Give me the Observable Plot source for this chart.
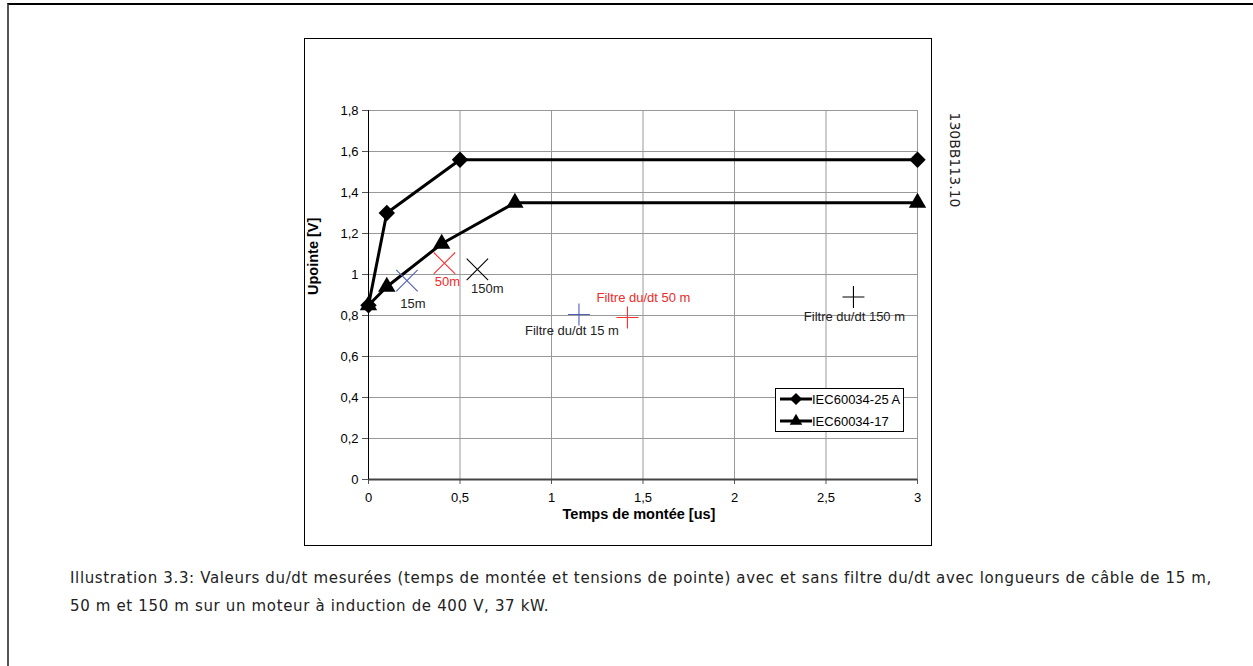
<!DOCTYPE html>
<html><head><meta charset="utf-8">
<script src="https://cdn.jsdelivr.net/npm/d3@7"></script>
<script src="https://cdn.jsdelivr.net/npm/@observablehq/plot@0.6"></script>
<style>
body{margin:0;background:#fff;}
#page{position:relative;width:1253px;height:666px;overflow:hidden;font-family:"Liberation Sans",Arial,sans-serif;}
#border{position:absolute;left:7px;top:3px;right:-5px;bottom:-5px;border-top:2px solid #000;border-left:2px solid #555;}
#frame{position:absolute;left:304px;top:38px;width:628px;height:508px;border:1px solid #000;box-sizing:border-box;}
#chart{position:absolute;left:0;top:0;}
#legend{position:absolute;left:775px;top:388px;}
#code{position:absolute;left:905px;top:150px;width:100px;text-align:center;font-family:"DejaVu Sans";font-size:14px;transform:rotate(90deg);transform-origin:50% 50%;line-height:20px;color:#222;}
#caption{position:absolute;left:70px;top:564px;font-family:"DejaVu Sans";font-size:15px;letter-spacing:0.65px;line-height:28px;color:#222;white-space:nowrap;}
</style></head>
<body>
<div id="page">
  <div id="border"></div>
  <div id="frame"></div>
  <div id="chart"></div>
  <svg id="legend" width="130" height="45"></svg>
  <div id="code">130BB113.10</div>
  <div id="caption">Illustration 3.3: Valeurs du/dt mesurées (temps de montée et tensions de pointe) avec et sans filtre du/dt avec longueurs de câble de 15 m,<br>50 m et 150 m sur un moteur à induction de 400 V, 37 kW.</div>
</div>
<script>
// ---- data ----
const xTicks = [0, 0.5, 1, 1.5, 2, 2.5, 3];
const yTicks = [0, 0.2, 0.4, 0.6, 0.8, 1, 1.2, 1.4, 1.6, 1.8];
const seriesNames = ["IEC60034-25 A", "IEC60034-17"];
const timeA = [0, 0.1, 0.5, 3];
const peakA = [0.85, 1.3, 1.56, 1.56];
const timeB = [0, 0.1, 0.4, 0.8, 3];
const peakB = [0.85, 0.94, 1.15, 1.35, 1.35];
const cableLabels = ["15m", "50m", "150m"];
const cableTime = [0.21, 0.415, 0.595];
const cablePeak = [0.97, 1.055, 1.025];
const filterLabels = ["Filtre du/dt 15 m", "Filtre du/dt 50 m", "Filtre du/dt 150 m"];
const filterTime = [1.15, 1.415, 2.65];
const filterPeak = [0.805, 0.79, 0.89];

// ---- styles ----
const pointColors = ["#4f5fb8", "#ff3030", "#000000"];
const labelColors = ["#222", "#ee2a2a", "#222"];
const cableOffsets = [[6, 23], [3, 19], [10, 19]];
const filterOffsets = [[-7, 16], [16, -20], [1, 20]];

const fmt = d => String(+(+d).toFixed(1)).replace(".", ",");
const rowsA = timeA.map((t, i) => ({t, v: peakA[i]}));
const rowsB = timeB.map((t, i) => ({t, v: peakB[i]}));
const cable = cableLabels.map((l, i) => ({l, t: cableTime[i], v: cablePeak[i]}));
const filter = filterLabels.map((l, i) => ({l, t: filterTime[i], v: filterPeak[i]}));

const marks = [
  Plot.gridX(xTicks, {stroke: "#999", strokeOpacity: 1}),
  Plot.gridY(yTicks, {stroke: "#999", strokeOpacity: 1}),
  Plot.axisX({ticks: xTicks, tickFormat: fmt, tickSize: 5, tickPadding: 8, stroke: "#555", label: null, fontSize: 13}),
  Plot.axisY({ticks: yTicks, tickFormat: fmt, tickSize: 6, tickPadding: 4, stroke: "#555", label: null, fontSize: 13}),
  Plot.ruleY([0], {stroke: "#444", strokeWidth: 2}),
  Plot.ruleX([0], {stroke: "#000", strokeWidth: 1}),
  Plot.text(["Temps de montée [us]"], {frameAnchor: "bottom", dx: -4, dy: 39, fontWeight: "bold", fontSize: 14.5}),
  Plot.text(["Upointe [V]"], {frameAnchor: "left", dx: -55, rotate: -90, fontWeight: "bold", fontSize: 14.5}),
  Plot.line(rowsA, {x: "t", y: "v", stroke: "#000", strokeWidth: 3}),
  Plot.line(rowsB, {x: "t", y: "v", stroke: "#000", strokeWidth: 3}),
  Plot.dot(rowsA, {x: "t", y: "v", symbol: "diamond2", r: 7.4, fill: "#000", stroke: "none"}),
  Plot.dot(rowsB, {x: "t", y: "v", symbol: "triangle2", r: 8.3, fill: "#000", stroke: "none"})
];
cable.forEach((d, i) => {
  marks.push(Plot.dot([d], {x: "t", y: "v", symbol: "times", r: 9.8, stroke: pointColors[i], strokeWidth: 1.1}));
  marks.push(Plot.text([d], {x: "t", y: "v", text: "l", fill: labelColors[i], dx: cableOffsets[i][0], dy: cableOffsets[i][1], fontSize: 13}));
});
filter.forEach((d, i) => {
  marks.push(Plot.dot([d], {x: "t", y: "v", symbol: "plus", r: 7.1, stroke: pointColors[i], strokeWidth: 1.1}));
  marks.push(Plot.text([d], {x: "t", y: "v", text: "l", fill: labelColors[i], dx: filterOffsets[i][0], dy: filterOffsets[i][1], fontSize: 13}));
});

const chart = Plot.plot({
  width: 1253, height: 560,
  marginLeft: 368, marginRight: 336, marginTop: 110, marginBottom: 81,
  style: {fontFamily: "'Liberation Sans', Arial, sans-serif", fontSize: "13px", color: "#000", background: "transparent"},
  x: {domain: [0, 3]},
  y: {domain: [0, 1.8]},
  marks
});
document.getElementById("chart").appendChild(chart);

// ---- legend ----
const lg = d3.select("#legend");
lg.append("rect").attr("x", 0.5).attr("y", 0.5).attr("width", 128).attr("height", 43).attr("fill", "#fff").attr("stroke", "#000");
const legendSymbols = [d3.symbolDiamond2, d3.symbolTriangle2];
const legendSizes = [Math.PI * 5.5 * 5.5, Math.PI * 6 * 6];
seriesNames.forEach((name, i) => {
  const y = 11 + i * 22;
  lg.append("line").attr("x1", 5).attr("x2", 37).attr("y1", y).attr("y2", y).attr("stroke", "#000").attr("stroke-width", 3);
  lg.append("path").attr("d", d3.symbol(legendSymbols[i], legendSizes[i])()).attr("transform", `translate(21,${y})`).attr("fill", "#000");
  lg.append("text").attr("x", 37).attr("y", y + 4.5).attr("font-size", 13).attr("font-family", "'Liberation Sans', Arial").text(name);
});
</script>
</body></html>
